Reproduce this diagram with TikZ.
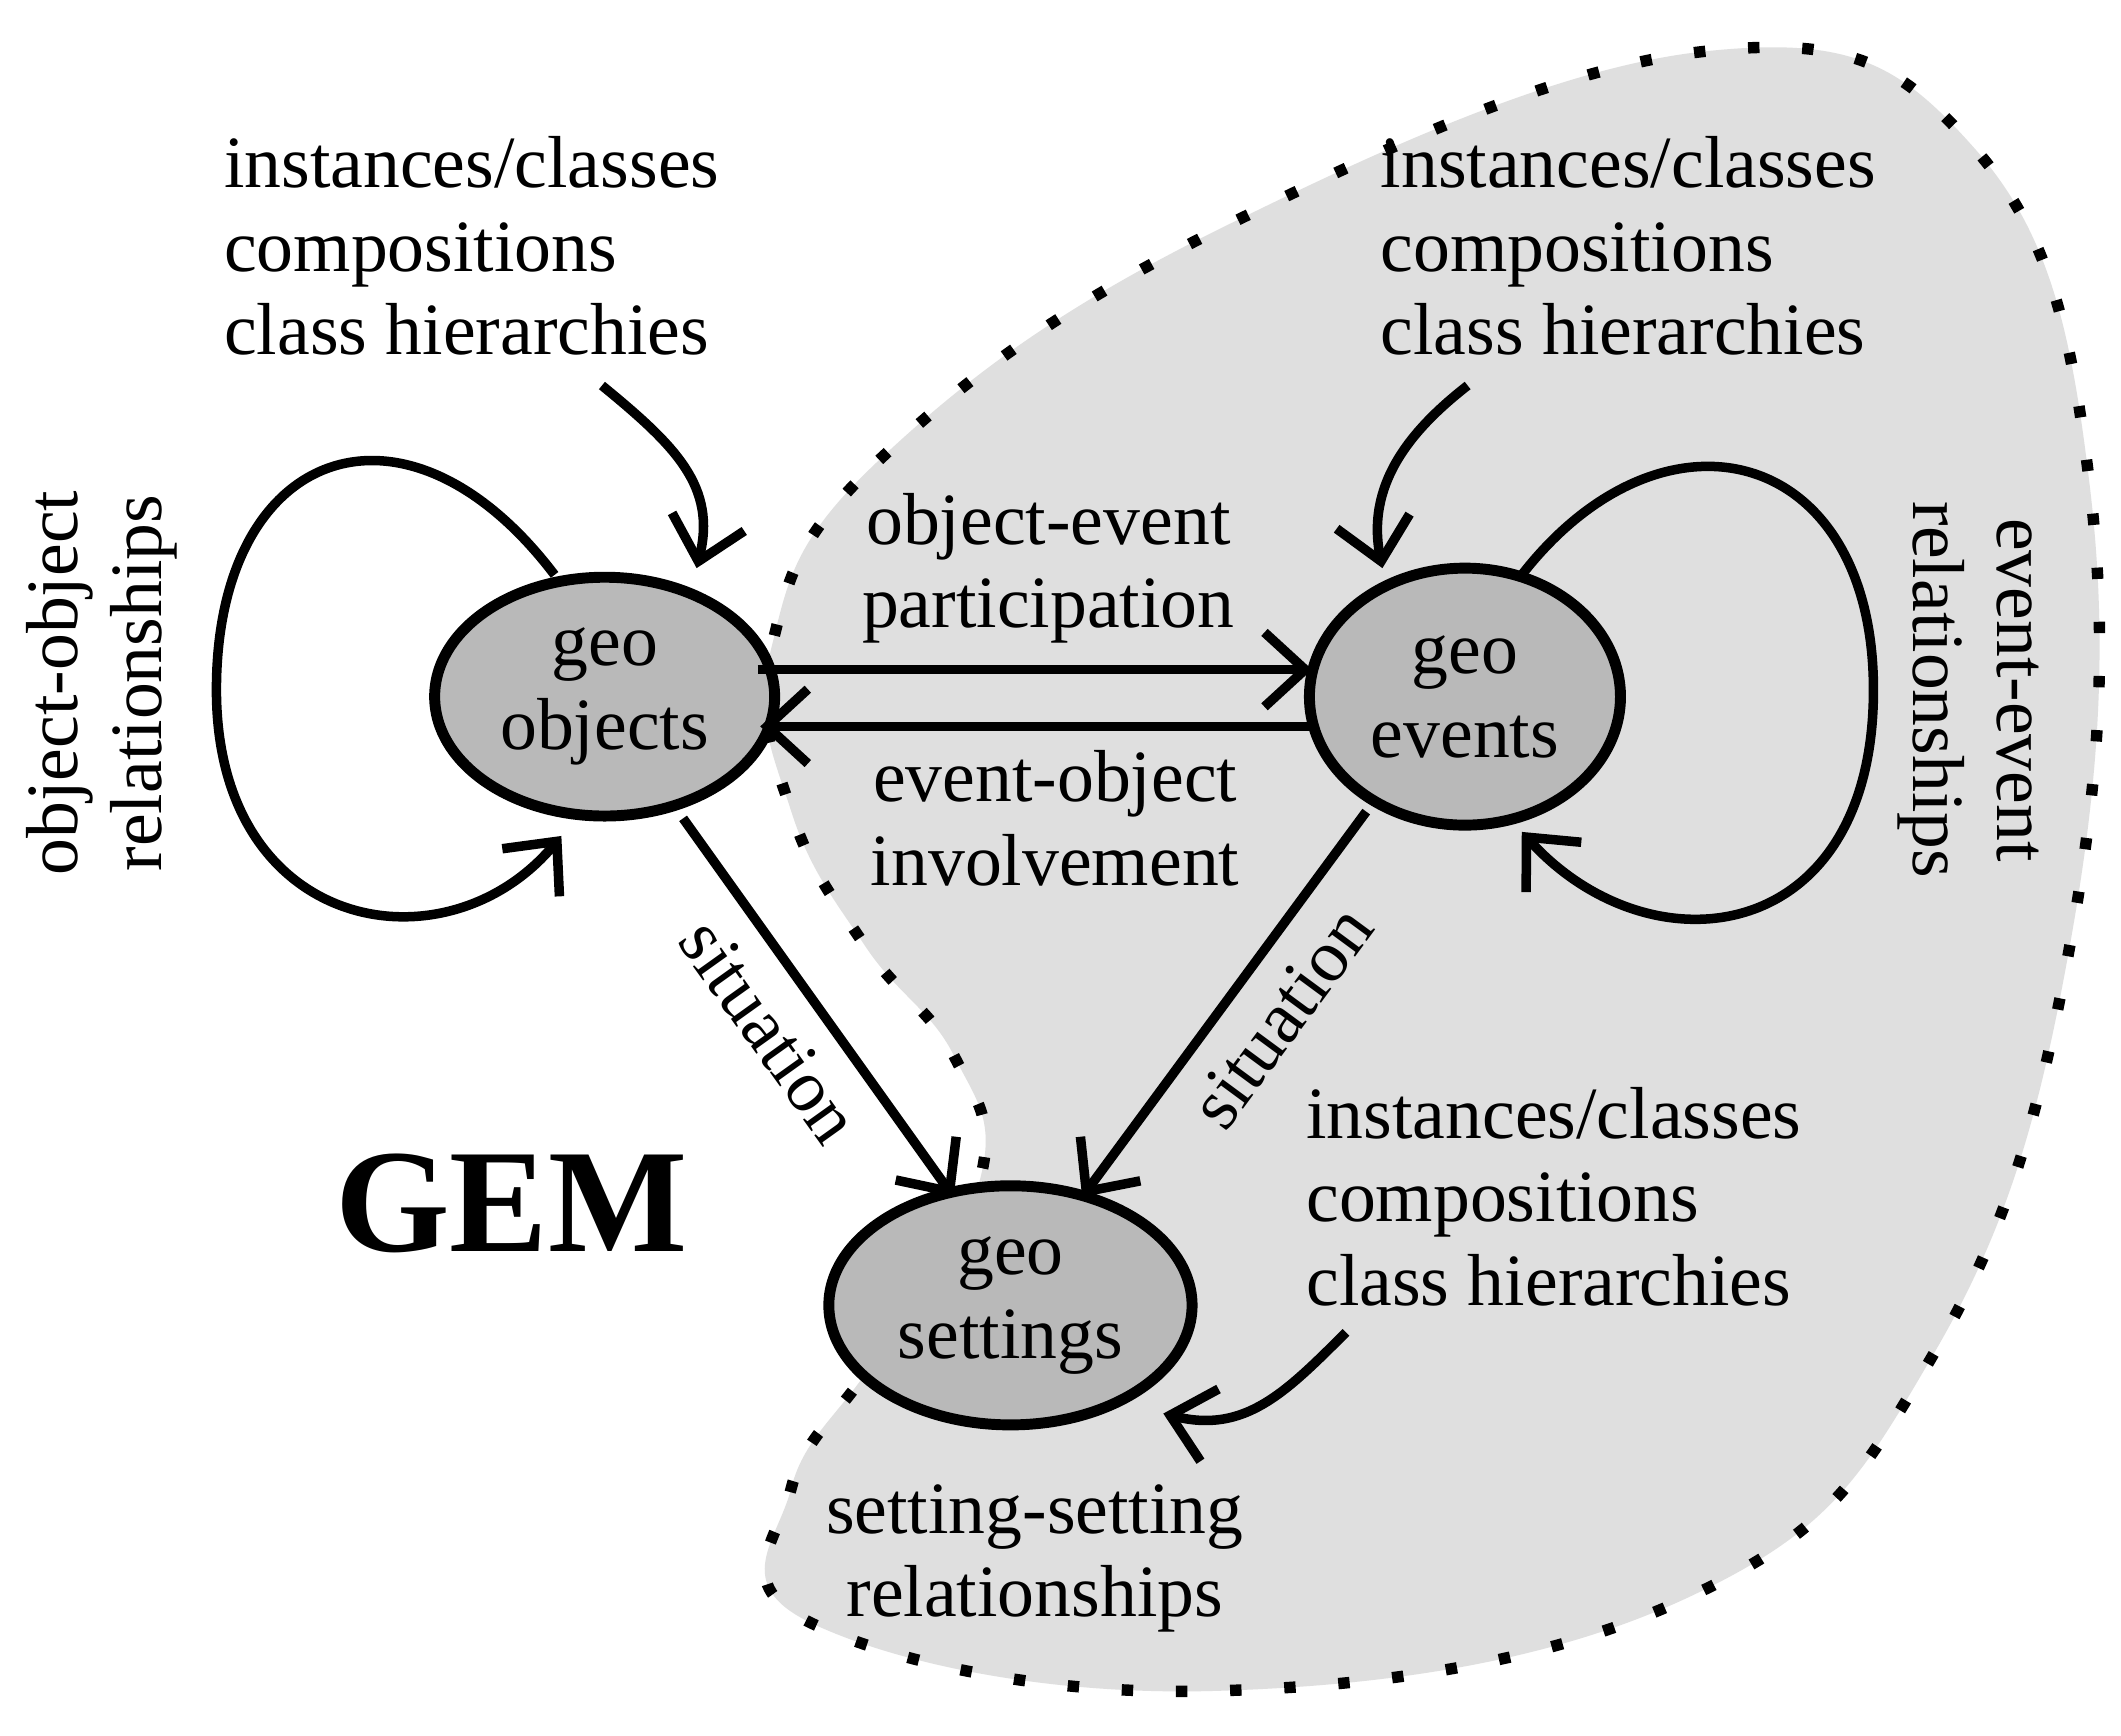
\documentclass[tikz,border=0pt]{standalone}
\usepackage{fontspec}
\setmainfont{Liberation Serif}
\usetikzlibrary{arrows.meta,shapes.geometric}
\begin{document}
\begin{tikzpicture}[x=0.1mm,y=-0.1mm,
  txt/.style={font=\fontsize{15.5}{17.6}\selectfont, align=left, inner sep=0},
  ctxt/.style={font=\fontsize{15.5}{17.6}\selectfont, align=center, inner sep=0},
  ent/.style={ellipse, draw, line width=2.3pt, fill=gray!55, font=\fontsize{15.5}{17.6}\selectfont, align=center},
  arr/.style={line width=2pt, -{Straight Barb[length=3mm,width=5.5mm,line width=2pt]}}]
\useasboundingbox (0,0) rectangle (1568,1283);
\fill[white] (0,0) rectangle (1568,1283);
\path[fill=gray!25, draw=black, line width=2.4pt, dash pattern=on 2.4pt off 9pt]
  plot[smooth cycle, tension=0.7] coordinates {(570,480) (650,340) (900,170) (1260,38) (1460,110) (1545,360) (1530,700) (1430,1000) (1250,1180) (900,1250) (600,1200) (585,1100) (650,1000) (725,870) (705,780) (640,700) (585,600)};
\node[ent, minimum width=22mm, minimum height=17.6mm] (obj) at (447,515) {geo\\objects};
\node[ent, minimum width=22.4mm, minimum height=19mm] (evt) at (1083,515) {geo\\events};
\node[ent, minimum width=22mm, minimum height=17mm] (set) at (747,965) {geo\\settings};
\node[txt, anchor=north west] (t1) at (165,100) {instances/classes\\compositions\\class hierarchies};
\node[txt, anchor=north west] (t2) at (1020,100) {instances/classes\\compositions\\class hierarchies};
\node[txt, anchor=north west] (t3) at (965,803) {instances/classes\\compositions\\class hierarchies};
\node[ctxt] (ss) at (765,1152) {setting-setting\\relationships};
\node[font=\fontsize{31}{31}\selectfont\bfseries, inner sep=0] (gem) at (378,890) {GEM};
\node[ctxt] (oe) at (775,420) {object-event\\participation};
\node[ctxt] (eo) at (780,605) {event-object\\involvement};
\node[ctxt, rotate=90] (oo) at (75,505) {object-object\\relationships};
\node[ctxt, rotate=-90] (ee) at (1455,510) {event-event\\relationships};
\coordinate (a1) at (560,495); \coordinate (b1) at (970,495);
\coordinate (a2) at (970,537); \coordinate (b2) at (562,537);
\draw[arr] (a1) -- (b1);
\draw[arr] (a2) -- (b2);
\coordinate (s1) at (505,605); \coordinate (s1e) at (705,885);
\coordinate (s2) at (1010,600); \coordinate (s2e) at (800,885);
\draw[arr] (s1) -- (s1e) node[ctxt, pos=0.48, sloped, below=5pt] {situation};
\draw[arr] (s2) -- (s2e) node[ctxt, pos=0.45, sloped, below=5pt] {situation};
\coordinate (l1s) at (410,425); \coordinate (l1e) at (415,618);
\draw[arr] (l1s) .. controls (300,280) and (160,330) .. (160,510) .. controls (160,690) and (330,720) .. (l1e);
\coordinate (l2s) at (1125,425); \coordinate (l2e) at (1125,615);
\draw[arr] (l2s) .. controls (1230,290) and (1385,330) .. (1385,510) .. controls (1385,700) and (1220,720) .. (l2e);
\coordinate (i1) at (445,285); \coordinate (i1e) at (515,420);
\draw[arr] (i1) .. controls (500,330) and (530,360) .. (i1e);
\coordinate (i2) at (1085,285); \coordinate (i2e) at (1022,420);
\draw[arr] (i2) .. controls (1040,320) and (1010,360) .. (i2e);
\coordinate (i3) at (995,985); \coordinate (i3e) at (860,1045);
\draw[arr] (i3) .. controls (950,1030) and (920,1060) .. (i3e);
\end{tikzpicture}
\end{document}
